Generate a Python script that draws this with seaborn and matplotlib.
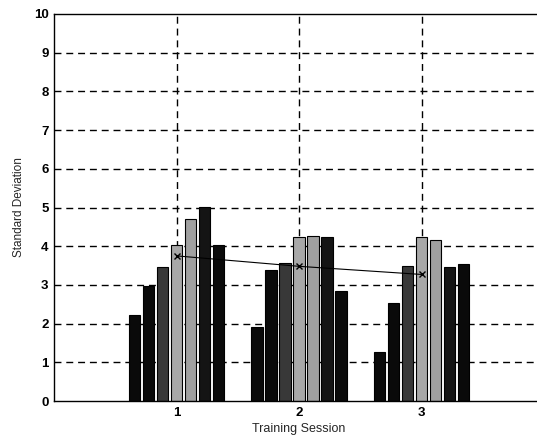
import matplotlib
matplotlib.use("Agg")
import matplotlib.pyplot as plt
import numpy as np
import pandas as pd
import seaborn as sns

# values (7 bars per training session)
sessions = [1, 2, 3]
subjects = ["S1", "S2", "S3", "S4", "S5", "S6", "S7"]
sd_session1 = [2.22, 2.98, 3.45, 4.02, 4.70, 5.01, 4.02]
sd_session2 = [1.90, 3.38, 3.57, 4.24, 4.27, 4.24, 2.85]
sd_session3 = [1.27, 2.53, 3.48, 4.25, 4.17, 3.46, 3.55]
mean_sd = [3.75, 3.48, 3.27]

bar_colors = ["#0a0a0a", "#0a0a0a", "#383838", "#a8a8a8", "#a0a0a0", "#141414", "#0a0a0a"]

df = pd.DataFrame({
    "session": np.repeat(sessions, len(subjects)),
    "subject": subjects * len(sessions),
    "sd": sd_session1 + sd_session2 + sd_session3,
})

sns.set_style("white")
plt.rcParams["font.family"] = ["Liberation Sans", "DejaVu Sans"]

fig = plt.figure(figsize=(5.37, 4.47), dpi=100)
ax = fig.add_axes([54 / 537, 46 / 447, 490 / 537, 387 / 447])

dash = (0, (5, 3.5))
for y in range(1, 10):
    ax.axhline(y, color="black", lw=1.0, ls=dash, zorder=0)
for x in [1, 2, 3, 4]:
    ax.axvline(x, color="black", lw=1.0, ls=dash, zorder=0)

sns.barplot(data=df, x="session", y="sd", hue="subject", palette=bar_colors,
            native_scale=True, width=0.8, edgecolor="black",
            linewidth=0.8, errorbar=None, legend=False, ax=ax, zorder=2)

# thin the bars so there's a small white gap between them
for p in ax.patches:
    w = p.get_width()
    p.set_x(p.get_x() + w * 0.08)
    p.set_width(w * 0.84)

ax.plot(sessions, mean_sd, color="black", lw=0.8, marker="x", markersize=4,
        markeredgewidth=1.0, zorder=3)

ax.set_xlim(0, 4)
ax.set_ylim(0, 10)
ax.set_yticks(range(0, 11))
ax.set_xticks(sessions)
ax.tick_params(direction="in", length=3, width=0.8, colors="black", labelsize=9.5, pad=4)
for lab in ax.get_xticklabels() + ax.get_yticklabels():
    lab.set_fontweight("bold")
ax.set_xlabel("Training Session", fontsize=9, labelpad=3)
ax.set_ylabel("Standard Deviation", fontsize=8.5, labelpad=6)
for s in ax.spines.values():
    s.set_color("black")
    s.set_linewidth(1.0)
ax.spines["right"].set_visible(False)

fig.savefig("out.png", dpi=100)
